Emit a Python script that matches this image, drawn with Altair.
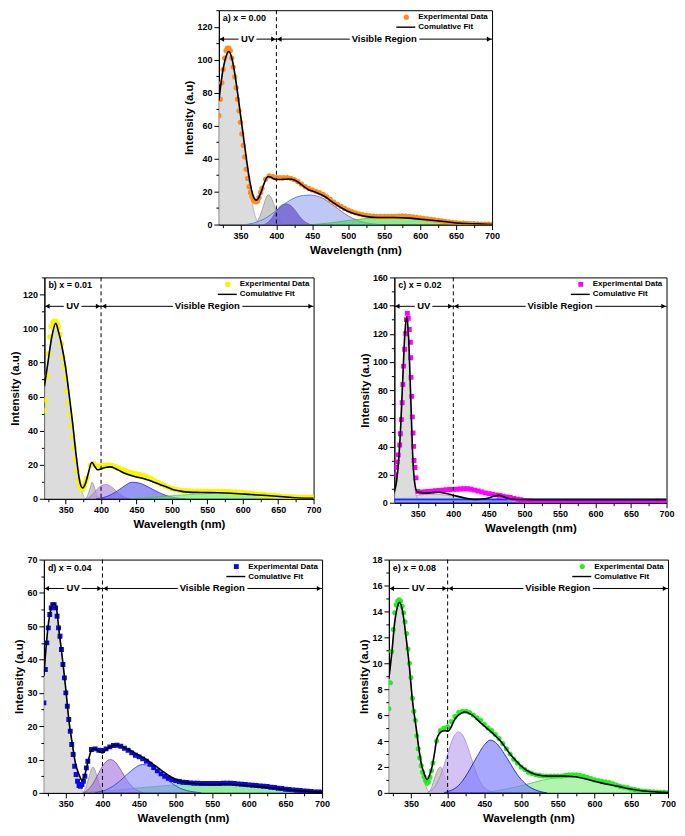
import altair as alt
import pandas as pd

FONT = "Liberation Sans"

# ---------------- common axes / sampling ----------------
WL_UV = list(range(320, 380, 2))        # dense sampling of the UV band (nm)
WL_VIS = list(range(380, 701, 5))       # visible band sampling (nm)
WL_EXP = WL_UV + WL_VIS
X_TICKS = list(range(325, 701, 25))
REGION_EDGE = 400
REGION_END = 700

# ---------------- panel a : x = 0.00 ----------------
A_EXP_UV = [66, 76, 86, 94, 101, 105.5, 107, 107, 105.5, 101,
            95.5, 89.5, 83, 76, 69, 62, 55, 48, 41, 33.5,
            28, 23, 19.5, 17, 15, 14, 13.8, 14.5, 16.5, 19.5]
A_EXP_VIS = [22, 27.5, 29.5, 29, 28.5, 28.5, 28.5, 28.5, 28, 27.2,
             26, 24.5, 23, 22, 21, 20.2, 19.4, 18.3, 16.8, 15.2,
             13.6, 12.2, 11, 9.8, 8.8, 7.9, 7.1, 6.5, 6, 5.6,
             5.3, 5.1, 5, 4.9, 4.9, 4.9, 5, 5, 5.1, 5.2,
             5.1, 4.9, 4.6, 4.3, 4, 3.7, 3.4, 3.1, 2.8, 2.5,
             2.2, 1.9, 1.6, 1.3, 1.1, 0.9, 0.8, 0.7, 0.6, 0.5,
             0.4, 0.3, 0.2, 0.2, 0.1]
A_FIT_WL = [320, 325, 330, 334, 338, 342, 346, 350, 354, 358,
            362, 366, 369, 372, 375, 379, 383, 388, 392, 396,
            400, 405, 412, 419, 425, 430, 437, 444, 452, 460,
            466, 472, 479, 486, 494, 502, 510, 521, 540, 563,
            586, 609, 633, 656, 679, 700]
A_FIT = [75, 92, 102, 105, 101, 92, 80, 67, 54, 41,
         29, 20, 16, 14.8, 16, 20, 25, 29, 28.8, 27.8,
         27.3, 27.3, 27.5, 27.6, 27, 25.8, 23.5, 21.3, 20, 18.5,
         17.3, 15.6, 13.3, 11.3, 9.3, 7.6, 6.4, 5.2, 4.3, 4.3,
         3.9, 2.9, 1.9, 0.8, 0.4, 0.0]
A_UV_WL = [320, 325, 330, 334, 338, 342, 346, 350, 354, 358, 362, 366, 370, 374, 378]
A_UV = [75, 92, 102, 105, 101, 92, 80, 66, 52, 38, 25, 14, 6, 1.5, 0]
A_G2_WL = [369, 373, 377, 381, 385, 388.5, 392, 396, 400, 404, 408, 412]
A_G2 = [0, 1.5, 5, 10, 15.5, 18, 17, 13, 7.5, 3.2, 0.9, 0]
A_P_WL = [383, 388, 393, 398, 403, 408, 414, 420, 425, 430, 435, 440, 446]
A_P = [0, 1.2, 3.5, 6.8, 10, 12, 12.6, 11.5, 9.2, 6.3, 3.6, 1.6, 0.3]
A_B_WL = [358, 368, 378, 388, 398, 408, 418, 428, 438, 446.5, 455, 465, 475, 485, 495, 505, 515, 525, 535, 545]
A_B = [0, 0.9, 2.4, 4.7, 7.9, 11.4, 14.5, 16.7, 17.7, 17.9, 17.5, 15.8, 13, 9.8, 6.6, 4, 2.2, 1, 0.4, 0]
A_GR_WL = [450, 460, 470, 480, 490, 500, 510, 520, 530, 540, 550, 560, 570, 580, 590, 600, 610, 620, 630, 640, 650, 660, 670, 680]
A_GR = [0, 0.4, 0.8, 1.3, 1.9, 2.5, 3, 3.5, 3.8, 4.1, 4.2, 4.3, 4.2, 4, 3.7, 3.3, 2.8, 2.3, 1.8, 1.3, 0.9, 0.5, 0.2, 0]

# ---------------- panel b : x = 0.01 ----------------
B_EXP_UV = [52, 58, 72, 85, 95, 101, 103.5, 104, 104, 103,
            100.5, 96.5, 91, 83, 77.5, 71, 63.5, 56.5, 49.5, 43,
            36.5, 30, 23, 16.5, 11, 7.5, 5.8, 5.8, 7.5, 10]
B_EXP_VIS = [12, 19.5, 20.5, 19, 19.3, 19.6, 19.8, 19.5, 18.8, 18,
             17.2, 16.4, 15.6, 15, 14.5, 14, 13.5, 12.8, 11.8, 10.7,
             9.6, 8.6, 7.6, 6.7, 6, 5.5, 5.1, 4.8, 4.6, 4.5,
             4.4, 4.3, 4.3, 4.3, 4.3, 4.2, 4.2, 4.2, 4.2, 4.2,
             4.1, 4, 3.9, 3.7, 3.6, 3.4, 3.2, 3, 2.8, 2.6,
             2.4, 2.2, 2, 1.8, 1.6, 1.5, 1.3, 1.2, 1.1, 1,
             0.9, 0.9, 0.8, 0.8, 0.8]
B_FIT_WL = [320, 325, 330, 336, 340, 345, 350, 355, 360, 365,
            370, 374, 378, 382, 387, 391, 395, 400, 406, 413,
            420, 428, 436, 446, 455, 464, 473, 483, 492, 501,
            512, 524, 540, 565, 588, 611, 634, 657, 679, 700]
B_FIT = [66, 80, 94, 103, 98, 89, 77, 61, 44, 25,
         10, 6.4, 9, 15, 21.4, 19, 17, 17.5, 18.3, 18.7,
         17.8, 16, 14.5, 13.2, 12.3, 11.3, 10, 8.4, 7, 5.5,
         4.5, 3.9, 3.7, 3.5, 3.1, 2.5, 1.9, 1.2, 0.4, 0.2]
B_UV_WL = [320, 325, 330, 336, 340, 345, 350, 355, 360, 365, 370, 374, 377]
B_UV = [66, 80, 94, 103, 98, 89, 77, 61, 44, 25, 10, 3, 0]
B_G2_WL = [378, 380, 382.5, 385, 387.2, 390, 392.5, 395, 397.5]
B_G2 = [0, 1, 3.5, 7, 9.7, 7.5, 4, 1.2, 0]
B_P_WL = [380, 385, 390, 395, 400, 407, 412, 417, 422, 427, 432, 437]
B_P = [0, 1.5, 3.5, 5.8, 7.6, 8.4, 7.7, 6.2, 4.3, 2.6, 1.2, 0.3]
B_B_WL = [393, 403, 413, 423, 433, 443.5, 452, 462, 472, 482, 492, 502, 512, 520]
B_B = [0, 0.7, 2.2, 4.6, 7.5, 9.7, 9.4, 7.9, 5.7, 3.6, 1.9, 0.8, 0.2, 0]
B_GR_WL = [440, 460, 480, 500, 520, 540, 560, 580, 600, 620, 640, 660, 680, 700]
B_GR = [0, 0.5, 1.1, 1.8, 2.4, 2.8, 3.1, 3.1, 2.9, 2.5, 1.9, 1.3, 0.8, 0.4]

# ---------------- panel c : x = 0.02 ----------------
C_EXP_WL = [318, 319.5, 321, 322.5, 324.5, 325.5, 327, 328, 329, 330,
            331.5, 333, 334, 335.3, 336.7, 338, 339.5, 340, 340.5, 341.4,
            342.3, 343.3, 344.2, 344.7, 346, 347.5, 350, 355, 360, 365,
            370, 375, 380, 385, 390, 395, 400, 405, 410, 415,
            420, 425, 430, 435, 440, 445, 450, 455, 460, 465,
            470, 475, 480, 485, 490, 495, 500, 505, 510, 515,
            520, 525, 530, 535, 540, 545, 550, 555, 560, 565,
            570, 575, 580, 585, 590, 595, 600, 605, 610, 615,
            620, 625, 630, 635, 640, 645, 650, 655, 660, 665,
            670, 675, 680, 685, 690, 695, 700]
C_EXP = [20, 25, 29, 34, 41, 49, 59, 71, 84, 97,
         109, 120, 130, 134.5, 131, 123, 114, 103, 89, 75.5,
         61, 49.5, 40, 30, 25, 17.7, 8, 7.5, 7.8, 8,
         8.2, 8.5, 8.7, 9, 9.2, 9.4, 9.5, 9.6, 9.8, 9.9,
         9.9, 9.6, 9, 8.3, 7.6, 7, 6.5, 6, 5.6, 5.2,
         4.7, 4.2, 3.7, 3.1, 2.6, 2.1, 1.7, 1.4, 1.2, 1,
         0.9, 0.8, 0.7, 0.6, 0.5, 0.5, 0.5, 0.4, 0.4, 0.4,
         0.4, 0.4, 0.4, 0.4, 0.3, 0.3, 0.3, 0.3, 0.3, 0.3,
         0.3, 0.3, 0.3, 0.3, 0.3, 0.3, 0.3, 0.3, 0.3, 0.3,
         0.3, 0.3, 0.3, 0.3, 0.3, 0.3, 0.3]
C_FIT_WL = [317, 320, 323, 326, 329, 332, 334.5, 337, 340, 343,
            346, 349, 355, 365, 378, 390, 401, 415, 429, 443,
            452, 458, 464, 470, 476, 483, 490, 510, 560, 620, 700]
C_FIT = [8, 15, 30, 55, 90, 122, 132, 118, 76, 32,
         13, 7.8, 7.2, 7, 7.5, 6.6, 5.2, 3.5, 2.4, 2.8,
         3.8, 4.8, 5.2, 4.5, 3.3, 2.6, 2.3, 2.2, 2.2, 2.2, 2.2]
C_UV_WL = [317, 320, 323, 326, 329, 332, 334.5, 337, 340, 343, 346, 349, 352, 356]
C_UV = [6, 12.5, 27, 52, 87, 119, 129, 115, 73, 29, 10, 3.5, 1, 0]
C_G2_WL = [317, 330, 345, 360, 375, 390, 405, 420, 435, 450, 465, 475]
C_G2 = [2.4, 3.6, 5, 5.8, 6, 5.4, 4.2, 2.8, 1.5, 0.6, 0.1, 0]
C_BASE_WL = [317, 700]
C_BASE = [2.3, 2.3]
C_B2_WL = [442, 448, 454, 460, 464, 468, 474, 480, 486]
C_B2 = [0, 0.5, 1.5, 2.6, 3, 2.6, 1.5, 0.5, 0]

# ---------------- panel d : x = 0.04 ----------------
D_EXP_UV = [27, 37, 45, 49.5, 53.5, 55.5, 56.5, 56.5, 55.5, 53,
            49.5, 47, 43, 38.5, 34.5, 30, 26, 22, 18.5, 14.5,
            11.5, 8, 5.5, 3.5, 2.2, 2, 2.5, 3.5, 5, 7.5]
D_EXP_VIS = [9.5, 13, 13.2, 12.8, 12.7, 13.2, 13.8, 14.2, 14.3, 14,
             13.4, 12.8, 12, 11.3, 10.8, 10.2, 9.5, 8.6, 7.6, 6.6,
             5.7, 5, 4.4, 3.9, 3.6, 3.4, 3.2, 3.1, 3, 2.9,
             2.9, 2.8, 2.8, 2.8, 2.8, 2.8, 2.8, 2.9, 2.9, 2.9,
             2.8, 2.7, 2.6, 2.5, 2.4, 2.3, 2.2, 2.1, 2, 1.9,
             1.7, 1.6, 1.4, 1.3, 1.1, 1, 0.9, 0.8, 0.7, 0.6,
             0.5, 0.4, 0.3, 0.3, 0.2]
D_FIT_WL = [320, 322, 325, 328, 331, 334, 337, 341, 346, 350,
            354, 359, 363, 368, 372, 376, 381, 385, 388, 392,
            396, 400, 405, 410, 416, 422, 429, 436, 444, 452,
            460, 468, 476, 484, 492, 500, 510, 522, 538, 555,
            573, 591, 617, 644, 670, 700]
D_FIT = [35, 41, 48.5, 53.5, 56, 56.8, 55.5, 48, 39, 31,
         22, 14.5, 9, 5.5, 3.7, 5.5, 10, 12.8, 13.2, 13,
         12.3, 12, 13, 13.8, 14.3, 14.2, 13.6, 13, 12, 11,
         10, 8.8, 7.5, 6.2, 5, 4.1, 3.3, 2.9, 2.6, 2.5,
         2.6, 2.3, 1.8, 1.2, 0.6, 0.2]
D_UV_WL = [320, 325, 330, 334, 340, 345, 350, 355, 360, 365, 370, 374]
D_UV = [35, 48.5, 55, 56.8, 50, 41, 31, 21, 12.5, 6, 1.8, 0]
D_G2_WL = [373, 376, 380, 383, 387, 390, 393, 396, 400, 403]
D_G2 = [0, 1, 3.5, 5.8, 7.7, 6.8, 4.5, 2.3, 0.6, 0]
D_P_WL = [374, 380, 385, 390, 395, 400, 405, 411, 415, 420, 425, 430, 435, 440, 445, 450, 456]
D_P = [0, 0.9, 2.1, 3.9, 6, 8, 9.4, 10, 9.7, 8.6, 6.9, 5, 3.3, 2, 1.1, 0.5, 0]
D_B_WL = [390, 395, 405, 415, 425, 435, 445, 455, 465, 475, 485, 495, 505, 515, 525, 535]
D_B = [0, 0.3, 0.9, 2.1, 3.8, 5.8, 7.6, 8.5, 8.1, 6.6, 4.7, 2.9, 1.5, 0.7, 0.3, 0]
D_GR_WL = [375, 380, 400, 420, 440, 460, 480, 500, 520, 540, 560, 580, 600, 620, 640, 660, 680, 700]
D_GR = [0, 0.2, 0.5, 0.9, 1.3, 1.7, 2.1, 2.4, 2.6, 2.7, 2.7, 2.6, 2.3, 1.9, 1.4, 0.9, 0.5, 0.2]

# ---------------- panel e : x = 0.08 ----------------
E_EXP_UV = [6.5, 8.5, 10.9, 12.6, 13.9, 14.5, 14.8, 14.9, 14.8, 14.4,
            13.9, 13.2, 12.3, 11.1, 10, 8.9, 7.3, 6.3, 5.6, 4.4,
            3.4, 2.7, 2.1, 1.6, 1.25, 0.95, 0.75, 0.85, 1.2, 1.7]
E_EXP_VIS = [2.3, 4, 4.8, 5, 5.1, 5.5, 5.9, 6.2, 6.3, 6.3,
             6.2, 6, 5.8, 5.6, 5.3, 5, 4.8, 4.5, 4.2, 3.8,
             3.4, 3, 2.6, 2.3, 2, 1.8, 1.6, 1.5, 1.4, 1.35,
             1.3, 1.3, 1.3, 1.3, 1.3, 1.3, 1.35, 1.4, 1.4, 1.4,
             1.35, 1.3, 1.2, 1.1, 1, 0.95, 0.9, 0.85, 0.8, 0.7,
             0.6, 0.5, 0.45, 0.4, 0.3, 0.25, 0.2, 0.15, 0.12, 0.1,
             0.08, 0.06, 0.05, 0.04, 0.03]
E_FIT_WL = [320, 324, 328, 331, 334.5, 339, 343, 348, 352, 357,
            361, 364, 368, 372, 375, 379, 382, 385, 389, 393,
            397, 400, 403, 410, 417, 423, 432, 445, 458, 472,
            485, 503, 520, 538, 556, 573, 591, 609, 631, 653,
            675, 700]
E_FIT = [8.8, 10.8, 13.2, 14.2, 14.7, 13.9, 12.2, 9.7, 7.2, 5.1,
         3.35, 2.3, 1.5, 1.03, 1.3, 2.06, 3, 4.1, 4.6, 4.77,
         4.8, 4.75, 4.9, 5.7, 6.1, 6.24, 6.06, 5.4, 4.77, 4,
         3, 1.93, 1.42, 1.29, 1.29, 1.24, 1.03, 0.77, 0.52, 0.26,
         0.1, 0.03]
E_UV_WL = [320, 324, 328, 331, 334.5, 339, 343, 348, 352, 357, 361, 364, 368, 372, 375]
E_UV = [8.8, 10.8, 13.2, 14.2, 14.7, 13.9, 12.2, 9.7, 7.2, 5.1, 3.3, 2.2, 1.1, 0.3, 0]
E_G2_WL = [373, 377, 381, 385, 390, 394, 398, 402, 405]
E_G2 = [0, 0.3, 0.9, 1.6, 2, 1.6, 0.8, 0.2, 0]
E_P_WL = [372, 380, 385, 390, 395, 400, 405, 410, 415, 420, 425, 430, 435, 440, 445, 450, 455, 462]
E_P = [0, 0.3, 0.7, 1.3, 2.1, 3, 3.9, 4.5, 4.7, 4.5, 3.9, 3.1, 2.2, 1.4, 0.8, 0.4, 0.2, 0]
E_B_WL = [395, 400, 410, 420, 430, 440, 450, 458, 465, 475, 485, 495, 505, 515, 525, 535]
E_B = [0, 0.1, 0.35, 0.9, 1.8, 2.8, 3.7, 4.07, 3.9, 3.2, 2.3, 1.4, 0.75, 0.35, 0.12, 0]
E_GR_WL = [440, 460, 480, 500, 520, 540, 560, 575, 590, 610, 630, 650, 670, 690, 700]
E_GR = [0, 0.1, 0.3, 0.55, 0.85, 1.1, 1.25, 1.3, 1.2, 0.95, 0.65, 0.35, 0.15, 0.04, 0]

# ---------------- styles ----------------
UV_STYLE = ("#d8d8d8", 0.9, "#9a9a9a", 0.6)
G2_STYLE = ("#a9a9a9", 0.6, "#7f7f7f", 0.6)

PANELS = {
    "a": dict(label="a) x = 0.00", w=274, h=215, xdom=[320, 700], ydom=[0, 130], ystep=20,
              yticks=list(range(0, 131, 10)), exp_wl=WL_EXP, exp=A_EXP_UV + A_EXP_VIS,
              fit_wl=A_FIT_WL, fit=A_FIT, color="#ff8c1a", shape="circle", size=28,
              comps=[(A_UV_WL, A_UV) + UV_STYLE, (A_G2_WL, A_G2) + G2_STYLE,
                     (A_B_WL, A_B, "#a9b6f0", 0.75, "#4a6ad8", 0.8),
                     (A_P_WL, A_P, "#6a5acd", 0.75, "#5a4abd", 0.6),
                     (A_GR_WL, A_GR, "#3fdc3f", 0.6, "#30b030", 0.6)]),
    "b": dict(label="b) x = 0.01", w=270, h=222, xdom=[320, 700], ydom=[0, 130], ystep=20,
              yticks=list(range(0, 131, 10)), exp_wl=WL_EXP, exp=B_EXP_UV + B_EXP_VIS,
              fit_wl=B_FIT_WL, fit=B_FIT, color="#f6f600", shape="circle", size=32,
              comps=[(B_UV_WL, B_UV) + UV_STYLE, (B_G2_WL, B_G2) + G2_STYLE,
                     (B_P_WL, B_P, "#b090e0", 0.7, "#9070c0", 0.6),
                     (B_B_WL, B_B, "#6a6af0", 0.7, "#2a2ad0", 0.8),
                     (B_GR_WL, B_GR, "#55ee55", 0.6, "#30c030", 0.6)]),
    "c": dict(label="c) x = 0.02", w=273, h=226, xdom=[317, 700], ydom=[0, 160], ystep=20,
              yticks=list(range(0, 161, 10)), exp_wl=C_EXP_WL, exp=C_EXP,
              fit_wl=C_FIT_WL, fit=C_FIT, color="#ff00ff", shape="square", size=24,
              comps=[(C_G2_WL, C_G2, "#cfcfcf", 0.8, "#8f8f8f", 0.6),
                     (C_UV_WL, C_UV) + UV_STYLE,
                     (C_B2_WL, C_B2, "#9a8af0", 0.7, "#6a5acd", 0.6),
                     (C_BASE_WL, C_BASE, "#b8b8ff", 0.6, "#1030ff", 1.8)]),
    "d": dict(label="d) x = 0.04", w=279, h=234, xdom=[320, 700], ydom=[0, 70], ystep=10,
              yticks=list(range(0, 71, 5)), exp_wl=WL_EXP, exp=D_EXP_UV + D_EXP_VIS,
              fit_wl=D_FIT_WL, fit=D_FIT, color="#0a0ae6", shape="square", size=24,
              comps=[(D_UV_WL, D_UV) + UV_STYLE, (D_G2_WL, D_G2) + G2_STYLE,
                     (D_GR_WL, D_GR, "#33dd55", 0.55, "#22aa44", 0.6),
                     (D_P_WL, D_P, "#a070e0", 0.6, "#6a3aa0", 0.7),
                     (D_B_WL, D_B, "#8a8aff", 0.6, "#2a3ac0", 0.8)]),
    "e": dict(label="e) x = 0.08", w=280, h=234, xdom=[320, 700], ydom=[0, 18], ystep=2,
              yticks=list(range(0, 19, 1)), exp_wl=WL_EXP, exp=E_EXP_UV + E_EXP_VIS,
              fit_wl=E_FIT_WL, fit=E_FIT, color="#22ee22", shape="circle", size=26,
              comps=[(E_UV_WL, E_UV) + UV_STYLE, (E_G2_WL, E_G2) + G2_STYLE,
                     (E_GR_WL, E_GR, "#90ee90", 0.7, "#40c040", 0.7),
                     (E_P_WL, E_P, "#c4aef0", 0.75, "#9a80d8", 0.7),
                     (E_B_WL, E_B, "#7a7aff", 0.65, "#1010c0", 0.8)]),
}

ONE = pd.DataFrame({"k": [0]})
AY = 29  # pixel row of the region arrows


def tbl(wl, v):
    return pd.DataFrame({"wl": wl, "v": v})


def panel(P):
    W, H = P["w"], P["h"]
    xs = alt.Scale(domain=P["xdom"], nice=False, zero=False)
    ys = alt.Scale(domain=P["ydom"], nice=False, zero=True)
    st = P["ystep"]
    xaxis = alt.Axis(title="Wavelength (nm)", values=X_TICKS, labelFlush=False, titlePadding=4,
                     labelExpr="datum.value % 50 === 0 ? datum.label : ''",
                     tickSize={"condition": {"test": "datum.value % 50 === 0", "value": 5}, "value": 3})
    yaxis = alt.Axis(title="Intensity (a.u)", values=P["yticks"],
                     labelExpr=f"datum.value % {st} === 0 ? datum.label : ''",
                     tickSize={"condition": {"test": f"datum.value % {st} === 0", "value": 5}, "value": 3})

    def X(f="wl"):
        return alt.X(f, type="quantitative", scale=xs, axis=xaxis)

    Y = alt.Y("v", type="quantitative", scale=ys, axis=yaxis, stack=None)

    layers = []
    for wl, v, fill, fop, stroke, sw in P["comps"]:
        layers.append(alt.Chart(tbl(wl, v)).mark_area(
            interpolate="monotone", fill=fill, fillOpacity=fop, stroke=stroke,
            strokeWidth=sw, clip=True).encode(x=X(), y=Y))
    layers.append(alt.Chart(tbl(P["exp_wl"], P["exp"])).mark_point(
        filled=True, shape=P["shape"], size=P["size"], color=P["color"], opacity=1,
        clip=True).encode(x=X(), y=Y))
    layers.append(alt.Chart(tbl(P["fit_wl"], P["fit"])).mark_line(
        color="black", strokeWidth=1.6, interpolate="monotone", clip=True).encode(x=X(), y=Y))
    layers.append(alt.Chart(pd.DataFrame({"wl": [REGION_EDGE]})).mark_rule(
        color="black", strokeDash=[4, 3], strokeWidth=1).encode(x=X()))

    x0 = P["xdom"][0]
    reg = pd.DataFrame({"wl": [x0, REGION_EDGE], "wl2": [REGION_EDGE, REGION_END],
                        "mid": [(x0 + REGION_EDGE) / 2, (REGION_EDGE + REGION_END) / 2],
                        "lab": ["UV", "Visible Region"]})
    layers.append(alt.Chart(reg).mark_rule(color="black", strokeWidth=1).encode(
        x=X(), x2="wl2", y=alt.value(AY)))
    layers.append(alt.Chart(reg).mark_point(shape="triangle-left", filled=True, color="black",
                                            size=26, opacity=1, xOffset=3).encode(
        x=X(), y=alt.value(AY)))
    layers.append(alt.Chart(reg).mark_point(shape="triangle-right", filled=True, color="black",
                                            size=26, opacity=1, xOffset=-3).encode(
        x=X("wl2"), y=alt.value(AY)))
    layers.append(alt.Chart(reg).mark_text(font=FONT, fontSize=9.5, fontWeight="bold",
                                           color="white", stroke="white", strokeWidth=6).encode(
        x=X("mid"), y=alt.value(AY), text="lab:N"))
    layers.append(alt.Chart(reg).mark_text(font=FONT, fontSize=9.5, fontWeight="bold",
                                           color="black").encode(
        x=X("mid"), y=alt.value(AY), text="lab:N"))

    # panel label and legend
    layers.append(alt.Chart(ONE).mark_text(text=P["label"], font=FONT, fontSize=9, fontWeight="bold",
                                           align="left", baseline="middle", color="black").encode(
        x=alt.value(4), y=alt.value(8)))
    layers.append(alt.Chart(ONE).mark_point(filled=True, shape=P["shape"], size=P["size"],
                                            color=P["color"], opacity=1).encode(
        x=alt.value(W - 86), y=alt.value(7)))
    layers.append(alt.Chart(ONE).mark_rule(color="black", strokeWidth=1.4).encode(
        x=alt.value(W - 96), x2=alt.value(W - 77), y=alt.value(17)))
    layers.append(alt.Chart(ONE).mark_text(text="Experimental Data", font=FONT, fontSize=8,
                                           fontWeight="bold", align="left", baseline="middle",
                                           color="black").encode(x=alt.value(W - 74), y=alt.value(7)))
    layers.append(alt.Chart(ONE).mark_text(text="Comulative Fit", font=FONT, fontSize=8,
                                           fontWeight="bold", align="left", baseline="middle",
                                           color="black").encode(x=alt.value(W - 74), y=alt.value(17)))
    return alt.layer(*layers).properties(width=W, height=H)


row_bc = alt.hconcat(panel(PANELS["b"]), panel(PANELS["c"]), spacing=36)
row_de = alt.hconcat(panel(PANELS["d"]), panel(PANELS["e"]), spacing=27)

chart = alt.vconcat(
    alt.vconcat(panel(PANELS["a"]), row_bc, spacing=16, center=True),
    row_de, spacing=20
).properties(
    padding={"left": 0, "right": 0, "top": 0, "bottom": 0}
).configure_axis(
    labelFont=FONT, titleFont=FONT, labelFontWeight="bold", titleFontWeight="bold",
    labelFontSize=9, titleFontSize=11.5, labelColor="black", titleColor="black",
    domainColor="black", tickColor="black", grid=False, labelPadding=2, titlePadding=2
).configure_view(stroke="black", strokeWidth=1)

chart.save("out.html", embed_options={"renderer": "svg", "actions": False})
